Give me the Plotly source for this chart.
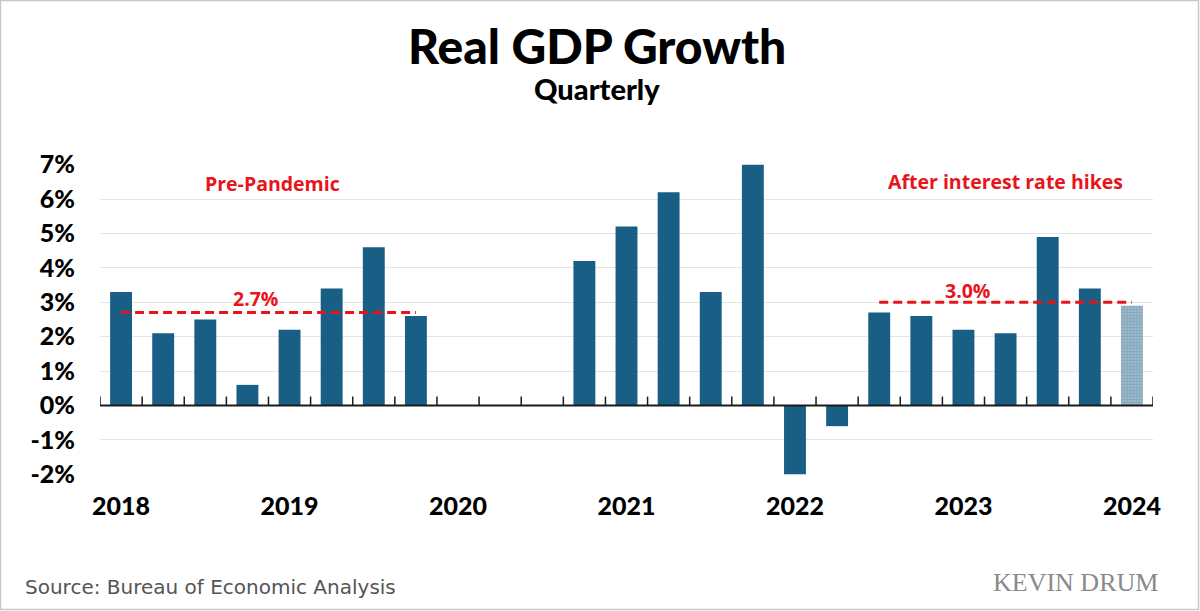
import plotly.graph_objects as go

# ---------------- data ----------------
quarters = ["2018Q1", "2018Q2", "2018Q3", "2018Q4",
            "2019Q1", "2019Q2", "2019Q3", "2019Q4",
            "2020Q1", "2020Q2", "2020Q3", "2020Q4",
            "2021Q1", "2021Q2", "2021Q3", "2021Q4",
            "2022Q1", "2022Q2", "2022Q3", "2022Q4",
            "2023Q1", "2023Q2", "2023Q3", "2023Q4",
            "2024Q1"]
growth = [3.3, 2.1, 2.5, 0.6,
          2.2, 3.4, 4.6, 2.6,
          None, None, None, 4.2,
          5.2, 6.2, 3.3, 7.0,
          -2.0, -0.6, 2.7, 2.6,
          2.2, 2.1, 4.9, 3.4,
          2.9]
estimate = [False] * 24 + [True]
year_labels = ["2018", "2019", "2020", "2021", "2022", "2023", "2024"]
y_ticks = [-2, -1, 0, 1, 2, 3, 4, 5, 6, 7]

pre_avg = 2.7
pre_span = ("2018Q1", "2019Q4")
post_avg = 3.0
post_span = ("2022Q3", "2024Q1")

# ---------------- layout geometry ----------------
W, H = 1200, 611
L, R, T, B = 100, 47, 164, 136
pw, ph = W - L - R, H - T - B

def px(x):
    return (x - L) / pw

def py(y):
    return (H - B - y) / ph

BAR = "#195e84"
RED = "#e8141c"
idx = list(range(len(quarters)))

fig = go.Figure()

solid_x = [i for i in idx if not estimate[i]]
fig.add_trace(go.Bar(
    x=solid_x, y=[growth[i] for i in solid_x], width=0.52,
    marker=dict(color=BAR, line=dict(width=0)), showlegend=False))
est_x = [i for i in idx if estimate[i]]
fig.add_trace(go.Bar(
    x=est_x, y=[growth[i] for i in est_x], width=0.52,
    marker=dict(color="#ffffff", line=dict(width=0),
                pattern=dict(shape=".", fgcolor="#5f8ba8", bgcolor="#a6c0d1",
                             size=3, solidity=0.6)),
    showlegend=False))

# zero line with tick marks between quarters
n = len(quarters)
fig.add_trace(go.Scatter(x=[-0.5, n - 0.5], y=[0, 0], mode="lines",
                         line=dict(color="#1a1a1a", width=2),
                         showlegend=False, hoverinfo="skip"))
tx, ty = [], []
for k in range(n + 1):
    tx += [k - 0.5, k - 0.5, None]
    ty += [0, 0.26, None]
fig.add_trace(go.Scatter(x=tx, y=ty, mode="lines",
                         line=dict(color="#1a1a1a", width=1.5),
                         showlegend=False, hoverinfo="skip"))

# average dashed lines
for avg, span in [(pre_avg, pre_span), (post_avg, post_span)]:
    a, b = quarters.index(span[0]), quarters.index(span[1])
    fig.add_trace(go.Scatter(x=[a, b], y=[avg, avg], mode="lines",
                             line=dict(color=RED, width=3, dash="9px,5px"),
                             showlegend=False, hoverinfo="skip"))

red_font = dict(family="Open Sans", size=19.5, color=RED, weight="bold")
fig.add_annotation(x=3.2, y=pre_avg + 0.42, text=f"{pre_avg:.1f}%", showarrow=False,
                   font=red_font, xanchor="center", yanchor="middle")
fig.add_annotation(x=20.1, y=post_avg + 0.35, text=f"{post_avg:.1f}%", showarrow=False,
                   font=red_font, xanchor="center", yanchor="middle")
fig.add_annotation(x=3.6, y=6.45, text="Pre-Pandemic", showarrow=False,
                   font=red_font, xanchor="center", yanchor="middle")
fig.add_annotation(x=21.0, y=6.5, text="After interest rate hikes", showarrow=False,
                   font=red_font, xanchor="center", yanchor="middle")

# titles
fig.add_annotation(xref="paper", yref="paper", x=px(597), y=py(45),
                   text="Real GDP Growth", showarrow=False,
                   font=dict(family="Lato", size=48, color="#000", weight=900),
                   xanchor="center", yanchor="middle")
fig.add_annotation(xref="paper", yref="paper", x=px(597), y=py(89),
                   text="Quarterly", showarrow=False,
                   font=dict(family="Lato", size=29, color="#000", weight=900),
                   xanchor="center", yanchor="middle")
fig.add_annotation(xref="paper", yref="paper", x=px(23), y=py(587),
                   text="Source: Bureau of Economic Analysis", showarrow=False,
                   font=dict(family="DejaVu Sans", size=20, color="#555555"),
                   xanchor="left", yanchor="middle")
fig.add_annotation(xref="paper", yref="paper", x=px(1160), y=py(582),
                   text="KEVIN DRUM", showarrow=False,
                   font=dict(family="Liberation Serif", size=26, color="#8a8a8a"),
                   xanchor="right", yanchor="middle")

# frame
fig.add_shape(type="rect", xref="paper", yref="paper",
              x0=px(0.5), x1=px(W - 1.5), y0=py(H - 1.5), y1=py(0.5),
              line=dict(color="#c8c8c8", width=1.5), fillcolor="rgba(0,0,0,0)",
              layer="below")

fig.update_layout(
    width=W, height=H,
    margin=dict(l=L, r=R, t=T, b=B, autoexpand=False),
    paper_bgcolor="white", plot_bgcolor="white",
    barmode="overlay",
    xaxis=dict(range=[-0.5, n - 0.5], tickmode="array",
               tickvals=[quarters.index(y + "Q1") for y in year_labels],
               ticktext=year_labels, showgrid=False, zeroline=False,
               showline=False, ticks="",
               tickfont=dict(family="Lato", size=25, color="#000", weight=900),
               ticklabelstandoff=14),
    yaxis=dict(range=[-2.02, 7.02], tickmode="array", tickvals=y_ticks,
               ticktext=[f"{v}%" for v in y_ticks], showgrid=True,
               gridcolor="#e4e4e4", gridwidth=1, zeroline=False, showline=False,
               ticks="",
               tickfont=dict(family="Lato", size=25, color="#000", weight=900),
               ticklabelstandoff=24),
)

fig.write_html("out.html", config={"displayModeBar": False},
               post_script="document.body.style.margin='0';document.body.style.overflow='hidden';")
